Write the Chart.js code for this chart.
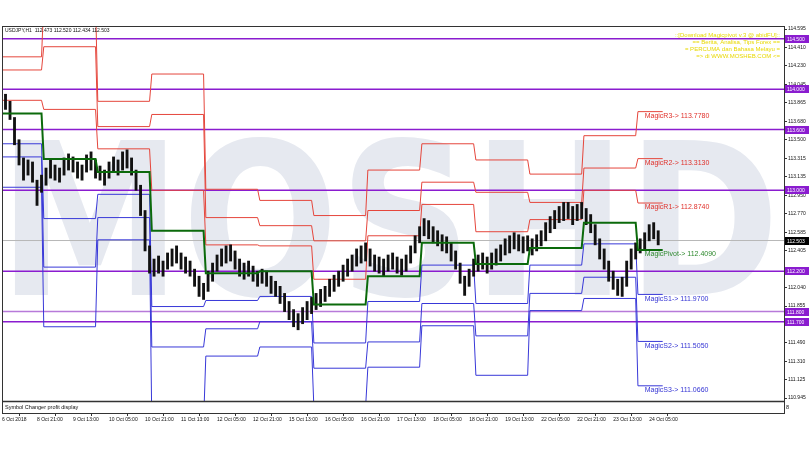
<!DOCTYPE html>
<html>
<head>
<meta charset="utf-8">
<title>USDJPY H1 MagicPivot</title>
<script src="https://cdn.jsdelivr.net/npm/chart.js@4.4.1/dist/chart.umd.min.js"></script>
<style>
  html, body { margin: 0; padding: 0; background: #fff; }
  #wrap { width: 810px; height: 450px; }
</style>
</head>
<body>
<div id="wrap"><canvas id="chart" width="810" height="450"></canvas></div>
<script>
// ===================================================
// DATA - USDJPY H1, 8 Oct - 24 Oct 2018
// ===================================================

// one entry = two H1 bars, first entry centred on bar 7 (8 Oct 07:00)
const firstBar = 7;
const candleLows = [
  113.80, 113.70, 113.45, 113.25, 113.10, 113.15, 113.08, 112.85, 112.98, 113.05,
  113.12, 113.10, 113.08, 113.15, 113.20, 113.18, 113.12, 113.10, 113.18, 113.20,
  113.12, 113.10, 113.05, 113.12, 113.18, 113.15, 113.20, 113.22, 113.15, 113.00,
  112.75, 112.40, 112.18, 112.15, 112.18, 112.15, 112.22, 112.25, 112.28, 112.22,
  112.18, 112.15, 112.05, 111.95, 111.92, 112.00, 112.10, 112.20, 112.25, 112.28,
  112.30, 112.22, 112.15, 112.12, 112.15, 112.10, 112.05, 112.08, 112.05, 111.98,
  111.95, 111.88, 111.80, 111.72, 111.65, 111.62, 111.68, 111.72, 111.78, 111.82,
  111.85, 111.90, 111.95, 112.00, 112.05, 112.10, 112.15, 112.20, 112.25, 112.28,
  112.30, 112.25, 112.20, 112.18, 112.15, 112.20, 112.22, 112.18, 112.16, 112.20,
  112.28, 112.38, 112.48, 112.55, 112.52, 112.48, 112.45, 112.40, 112.38, 112.30,
  112.22, 112.08, 111.96, 112.05, 112.15, 112.20, 112.22, 112.18, 112.22, 112.26,
  112.30, 112.36, 112.38, 112.42, 112.40, 112.38, 112.40, 112.36, 112.40, 112.45,
  112.50, 112.58, 112.62, 112.68, 112.70, 112.72, 112.66, 112.70, 112.72, 112.66,
  112.58, 112.46, 112.32, 112.22, 112.10, 112.02, 111.96, 111.95, 112.05, 112.22,
  112.32, 112.38, 112.42, 112.50, 112.52, 112.46
];
const candleHighs = [
  113.95, 113.88, 113.72, 113.50, 113.32, 113.30, 113.28, 113.10, 113.15, 113.22,
  113.30, 113.25, 113.22, 113.32, 113.36, 113.33, 113.28, 113.25, 113.35, 113.38,
  113.30, 113.24, 113.20, 113.28, 113.33, 113.30, 113.38, 113.40, 113.32, 113.20,
  113.05, 112.80, 112.45, 112.32, 112.35, 112.30, 112.38, 112.42, 112.45, 112.38,
  112.34, 112.30, 112.22, 112.15, 112.08, 112.20, 112.28, 112.36, 112.42, 112.45,
  112.46, 112.40, 112.32, 112.28, 112.30, 112.25, 112.20, 112.22, 112.20, 112.15,
  112.10, 112.05, 111.98, 111.90, 111.82, 111.78, 111.84, 111.90, 111.94, 111.98,
  112.02, 112.05, 112.12, 112.16, 112.20, 112.26, 112.32, 112.36, 112.42, 112.45,
  112.48, 112.42, 112.36, 112.34, 112.32, 112.36, 112.38, 112.34, 112.32, 112.36,
  112.45, 112.55, 112.64, 112.72, 112.70, 112.64, 112.60, 112.56, 112.54, 112.48,
  112.40, 112.28, 112.15, 112.22, 112.32, 112.36, 112.38, 112.34, 112.38, 112.42,
  112.46, 112.52, 112.55, 112.58, 112.56, 112.54, 112.55, 112.52, 112.56, 112.60,
  112.68, 112.74, 112.80, 112.84, 112.88, 112.88, 112.84, 112.86, 112.88, 112.82,
  112.76, 112.66, 112.52, 112.42, 112.30, 112.20, 112.12, 112.14, 112.30, 112.42,
  112.48, 112.52, 112.58, 112.66, 112.68, 112.60
];

// MagicPivot levels, one value per broker day (bar where the day starts)
const dayStarts = [0, 24, 48, 72, 96, 120, 144, 168, 192, 216, 240, 264, 288];
const lastBar = 299;
const pivotR3 = [114.32, 114.86, 113.88, 114.15, 113.01, 112.90, 112.75, 113.20, 113.46, 113.30, 113.16, 113.54, 113.778];
const pivotR2 = [114.19, 114.42, 113.63, 113.75, 112.73, 112.65, 112.50, 112.80, 113.08, 112.98, 112.88, 113.22, 113.313];
const pivotR1 = [113.89, 113.80, 113.41, 113.00, 112.46, 112.45, 112.12, 112.55, 112.86, 112.59, 112.71, 113.00, 112.874];
const pivotP  = [113.76, 113.31, 113.18, 112.60, 112.18, 112.20, 111.87, 112.15, 112.48, 112.27, 112.43, 112.68, 112.409];
const pivotS1 = [113.46, 112.72, 112.96, 111.85, 111.91, 111.95, 111.49, 111.90, 112.26, 111.88, 112.26, 112.47, 111.970];
const pivotS2 = [113.33, 112.24, 112.73, 111.45, 111.63, 111.70, 111.24, 111.50, 111.88, 111.56, 111.98, 112.14, 111.505];
const pivotS3 = [113.03, 111.65, 112.51, 110.70, 111.36, 111.45, 110.86, 111.25, 111.66, 111.17, 111.81, 111.93, 111.066];

// horizontal levels drawn by hand on the chart
const levelPrices = [114.5, 114.0, 113.6, 113.0, 112.2, 111.8, 111.7];
const lastPrice = 112.503;

// axis ticks
const priceTicks = [114.595, 114.410, 114.230, 114.045, 113.865, 113.680, 113.500, 113.315, 113.135, 112.950,
  112.770, 112.585, 112.405, 112.220, 112.040, 111.855, 111.675, 111.490, 111.310, 111.125, 110.945];
const timeTickBars = [21, 37, 53, 69, 85, 101, 117, 133, 149, 165, 181, 197, 213, 229, 245, 261, 277, 293];
const timeLabels = ['6 Oct 2018', '8 Oct 21:00', '9 Oct 13:00', '10 Oct 05:00', '10 Oct 21:00', '11 Oct 13:00',
  '12 Oct 05:00', '12 Oct 21:00', '15 Oct 13:00', '16 Oct 05:00', '16 Oct 21:00', '17 Oct 13:00',
  '18 Oct 05:00', '18 Oct 21:00', '19 Oct 13:00', '22 Oct 05:00', '22 Oct 21:00', '23 Oct 13:00', '24 Oct 05:00'];

const headerText = 'USDJPY,H1  112.473 112.520 112.434 112.503';
const promoLines = [
  '::[Download Magicpivot v.3 @ abidFU]::',
  '== Berita, Analisa, Tips Forex ==',
  '= PERCUMA dan Bahasa Melayu =',
  '=> di WWW.MOSHEB.COM <='
];
const watermark = 'MOSHD';

// ===================================================
// HELPERS
// ===================================================

const xMin = 5.44, xMax = 352.9;
const yMin = 110.797, yMax = 114.625;
const SMALL = '5px "Liberation Sans"';

function steps(levels) {
  const pts = [];
  levels.forEach((v, d) => {
    const end = d < dayStarts.length - 1 ? dayStarts[d + 1] - 1 : lastBar;
    pts.push({ x: dayStarts[d], y: v }, { x: end, y: v });
  });
  return pts;
}

function pivotSet(levels, color, width, order) {
  return { type: 'line', data: steps(levels), borderColor: color, borderWidth: width,
    pointRadius: 0, fill: false, tension: 0, order };
}

const magicLabels = [
  ['MagicR3', pivotR3, '#e0302a'],
  ['MagicR2', pivotR2, '#e0302a'],
  ['MagicR1', pivotR1, '#e0302a'],
  ['MagicPivot', pivotP, '#2f8a2f'],
  ['MagicS1', pivotS1, '#3434d4'],
  ['MagicS2', pivotS2, '#3434d4'],
  ['MagicS3', pivotS3, '#3434d4']
];

// ===================================================
// DIBUJO EXTRA (watermark, textos, cajas del eje)
// ===================================================

const overlay = {
  id: 'overlay',
  beforeDatasetsDraw(chart) {
    const { ctx, chartArea: a } = chart;
    ctx.save();
    ctx.beginPath();
    ctx.rect(a.left, a.top, a.right - a.left, a.bottom - a.top);
    ctx.clip();
    ctx.font = 'bold 212px "DejaVu Sans"';
    const w = ctx.measureText(watermark).width;
    ctx.translate(a.left - 4, 295);
    ctx.scale((a.right - a.left) / w, 1);
    ctx.fillStyle = '#e6e9f0';
    ctx.textBaseline = 'alphabetic';
    ctx.fillText(watermark, 0, 0);
    ctx.restore();
  },
  afterDatasetsDraw(chart) {
    const { ctx, chartArea: a, scales } = chart;
    const xs = scales.x, ys = scales.y;
    ctx.save();

    // MagicPivot labels at the last day
    ctx.font = '7px "Liberation Sans"';
    ctx.textBaseline = 'top';
    ctx.textAlign = 'left';
    const lx = xs.getPixelForValue(dayStarts[dayStarts.length - 1] + 3);
    magicLabels.forEach(([name, arr, color]) => {
      const v = arr[arr.length - 1];
      ctx.fillStyle = color;
      ctx.fillText(`${name}-> ${v.toFixed(4)}`, lx, ys.getPixelForValue(v) + 1);
    });

    // sub window "Symbol Changer"
    const subTop = a.bottom - 12;
    ctx.fillStyle = '#fff';
    ctx.fillRect(a.left, subTop, a.right - a.left, a.bottom - subTop);
    ctx.strokeStyle = '#333';
    ctx.lineWidth = 1.5;
    ctx.beginPath();
    ctx.moveTo(a.left, subTop + 0.5);
    ctx.lineTo(a.right, subTop + 0.5);
    ctx.stroke();
    ctx.lineWidth = 1;
    ctx.strokeRect(a.left + 0.5, a.top + 0.5, a.right - a.left, a.bottom - a.top);
    ctx.fillStyle = '#111';
    ctx.font = '5.5px "Liberation Sans"';
    ctx.textBaseline = 'middle';
    ctx.fillText('Symbol Changer profit display', a.left + 3, subTop + 6);
    ctx.fillText('8', a.right + 2, subTop + 6);

    // header
    ctx.font = SMALL;
    ctx.textBaseline = 'top';
    ctx.fillText(headerText, a.left + 3, a.top + 2);

    // promo text (yellow)
    ctx.fillStyle = '#e8d800';
    ctx.font = '6px "Liberation Sans"';
    ctx.textAlign = 'right';
    promoLines.forEach((t, i) => ctx.fillText(t, a.right - 4, a.top + 6 + i * 7.2));
    ctx.restore();
  },
  afterDraw(chart) {
    const { ctx, chartArea: a, scales } = chart;
    const ys = scales.y;
    ctx.save();
    ctx.font = SMALL;
    ctx.textBaseline = 'middle';
    ctx.textAlign = 'left';
    const box = (v, bg) => {
      const y = Math.round(ys.getPixelForValue(v));
      ctx.fillStyle = bg;
      ctx.fillRect(a.right + 1, y - 4, 24, 8);
      ctx.fillStyle = '#fff';
      ctx.fillText(v.toFixed(3), a.right + 3, y + 0.5);
    };
    levelPrices.forEach(v => box(v, '#8a1ccf'));
    box(lastPrice, '#000');
    ctx.restore();
  }
};

// ===================================================
// CHART
// ===================================================

const datasets = [];

datasets.push({
  type: 'line', data: [{ x: xMin, y: lastPrice }, { x: xMax, y: lastPrice }],
  borderColor: '#b8b8b8', borderWidth: 1, pointRadius: 0, order: 20
});
levelPrices.forEach(v => {
  datasets.push({
    type: 'line', data: [{ x: xMin, y: v }, { x: xMax, y: v }],
    borderColor: v === 111.8 ? '#b77ad9' : '#8a1ccf', borderWidth: 1.5, pointRadius: 0, order: 15
  });
});
datasets.push(pivotSet(pivotR3, '#e5463c', 1, 10));
datasets.push(pivotSet(pivotR2, '#e5463c', 1, 10));
datasets.push(pivotSet(pivotR1, '#e5463c', 1, 10));
datasets.push(pivotSet(pivotS1, '#3838d8', 1, 10));
datasets.push(pivotSet(pivotS2, '#3838d8', 1, 10));
datasets.push(pivotSet(pivotS3, '#3838d8', 1, 10));
datasets.push({
  type: 'bar',
  data: candleLows.map((lo, i) => ({ x: firstBar + 2 * i, y: [lo, candleHighs[i]] })),
  backgroundColor: '#111', borderWidth: 0, barThickness: 2.2, order: 5
});
datasets.push(pivotSet(pivotP, '#0b6a0b', 2, 1));

new Chart(document.getElementById('chart'), {
  type: 'bar',
  data: { datasets },
  plugins: [overlay],
  options: {
    responsive: false,
    animation: false,
    devicePixelRatio: 1,
    layout: { padding: { left: 2, top: 26, right: 0, bottom: 25 } },
    plugins: { legend: { display: false }, tooltip: { enabled: false } },
    scales: {
      x: {
        type: 'linear', min: xMin, max: xMax, offset: false,
        afterBuildTicks: s => { s.ticks = [xMin, ...timeTickBars].map(v => ({ value: v })); },
        afterFit: s => { s.height = 12; },
        grid: { drawOnChartArea: false, drawTicks: true, tickLength: 3, color: '#333' },
        border: { display: true, color: '#333' },
        ticks: {
          autoSkip: false, maxRotation: 0, minRotation: 0, align: 'start', padding: 1,
          color: '#111', font: { family: 'Liberation Sans', size: 5 },
          callback: (v, i) => timeLabels[i]
        }
      },
      y: {
        type: 'linear', position: 'right', min: yMin, max: yMax,
        afterBuildTicks: s => { s.ticks = priceTicks.map(v => ({ value: v })); },
        afterFit: s => { s.width = 26; },
        grid: { drawOnChartArea: false, drawTicks: true, tickLength: 3, color: '#333' },
        border: { display: true, color: '#333' },
        ticks: {
          padding: 1, color: '#111', font: { family: 'Liberation Sans', size: 5 },
          callback: v => v.toFixed(3)
        }
      }
    }
  }
});
</script>
</body>
</html>
